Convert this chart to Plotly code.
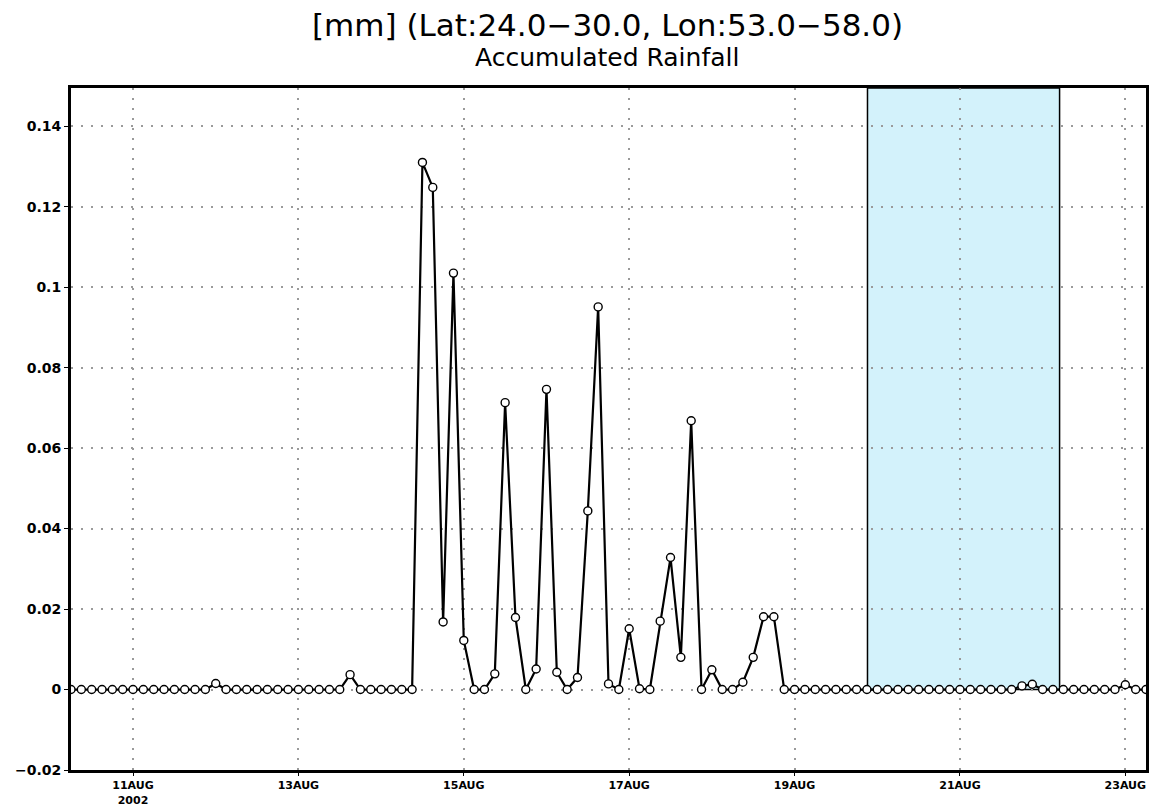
import pandas as pd
import plotly.graph_objects as go

# 3-hourly times, 10AUG2002 06Z .. 23AUG2002 06Z
times = pd.date_range("2002-08-10 06:00", periods=105, freq="3h")

rain = [
    0, 0, 0, 0, 0, 0, 0, 0, 0, 0, 0, 0, 0, 0,          # 0-13
    0.0015,                                             # 14
    0, 0, 0, 0, 0, 0, 0, 0, 0, 0, 0, 0,                 # 15-26
    0.0037,                                             # 27
    0, 0, 0, 0, 0, 0,                                   # 28-33
    0.131, 0.1248, 0.0168, 0.1035, 0.0122,              # 34-38
    0, 0, 0.0039, 0.0713, 0.0179,                       # 39-43
    0, 0.0051, 0.0746, 0.0043, 0,                       # 44-48
    0.003, 0.0444, 0.0951, 0.0014, 0,                   # 49-53
    0.0151, 0.0002, 0, 0.017, 0.0328,                   # 54-58
    0.008, 0.0668, 0, 0.0049, 0,                        # 59-63
    0, 0.0018, 0.008, 0.0181, 0.0181,                   # 64-68
    0, 0, 0, 0, 0, 0, 0, 0, 0, 0, 0, 0,                 # 69-80
    0, 0, 0, 0, 0, 0, 0, 0, 0, 0, 0,                    # 81-91
    0.0009, 0.0013,                                     # 92-93
    0, 0, 0, 0, 0, 0, 0, 0,                             # 94-101
    0.0012, 0, 0,                                       # 102-104
]

x_tick_vals = ["2002-08-11", "2002-08-13", "2002-08-15", "2002-08-17",
               "2002-08-19", "2002-08-21", "2002-08-23"]
x_tick_text = ["11AUG<br>2002", "13AUG", "15AUG", "17AUG", "19AUG", "21AUG", "23AUG"]

y_tick_vals = [-0.02, 0, 0.02, 0.04, 0.06, 0.08, 0.1, 0.12, 0.14]
y_tick_text = ["\u22120.02", "0", "0.02", "0.04", "0.06", "0.08", "0.1", "0.12", "0.14"]

y_min, y_max = -0.02, 0.1495
x_start, x_end = "2002-08-10 06:00", "2002-08-23 06:00"

shade_start, shade_end = "2002-08-19 21:10", "2002-08-22 04:55"

title_line1 = "[mm] (Lat:24.0\u221230.0, Lon:53.0\u221258.0)"
title_line2 = "Accumulated Rainfall"

fig = go.Figure()
fig.add_trace(go.Scatter(
    x=times, y=rain, mode="lines+markers",
    line=dict(color="black", width=2.2),
    marker=dict(symbol="circle", size=8, color="white",
                line=dict(color="black", width=1.4)),
    showlegend=False,
))

fig.add_shape(type="rect", xref="x", yref="y",
              x0=shade_start, x1=shade_end, y0=0, y1=y_max,
              fillcolor="#d3f2fb", line=dict(color="black", width=1.5),
              layer="below")

font_family = "DejaVu Sans"
fig.update_layout(
    width=1164, height=807,
    margin=dict(l=71, r=18, t=88, b=37),
    paper_bgcolor="white", plot_bgcolor="white",
    font=dict(family=font_family, color="black"),
    annotations=[
        dict(text=title_line1, xref="paper", yref="paper", x=0.499, y=1.093,
             xanchor="center", yanchor="middle", showarrow=False,
             font=dict(size=31, family=font_family, color="black")),
        dict(text=title_line2, xref="paper", yref="paper", x=0.499, y=1.044,
             xanchor="center", yanchor="middle", showarrow=False,
             font=dict(size=25, family=font_family, color="black")),
    ],
)

grid_style = dict(showgrid=True, gridcolor="#9a9a9a", griddash="2px,8px", gridwidth=2)

fig.update_xaxes(
    type="date", range=[x_start, x_end], automargin=False,
    tickmode="array", tickvals=x_tick_vals, ticktext=x_tick_text,
    tickfont=dict(size=11, family=font_family, color="black", weight="bold"),
    ticks="outside", ticklen=3, tickcolor="black", ticklabelstandoff=0,
    showline=True, linecolor="black", linewidth=3, mirror=True,
    zeroline=False, **grid_style,
)
fig.update_yaxes(
    range=[y_min, y_max], automargin=False,
    tickmode="array", tickvals=y_tick_vals, ticktext=y_tick_text,
    tickfont=dict(size=14, family=font_family, color="black", weight="bold"),
    ticks="outside", ticklen=4, tickcolor="black",
    showline=True, linecolor="black", linewidth=3, mirror=True,
    zeroline=False, **grid_style,
)

fig.write_html("out.html")
